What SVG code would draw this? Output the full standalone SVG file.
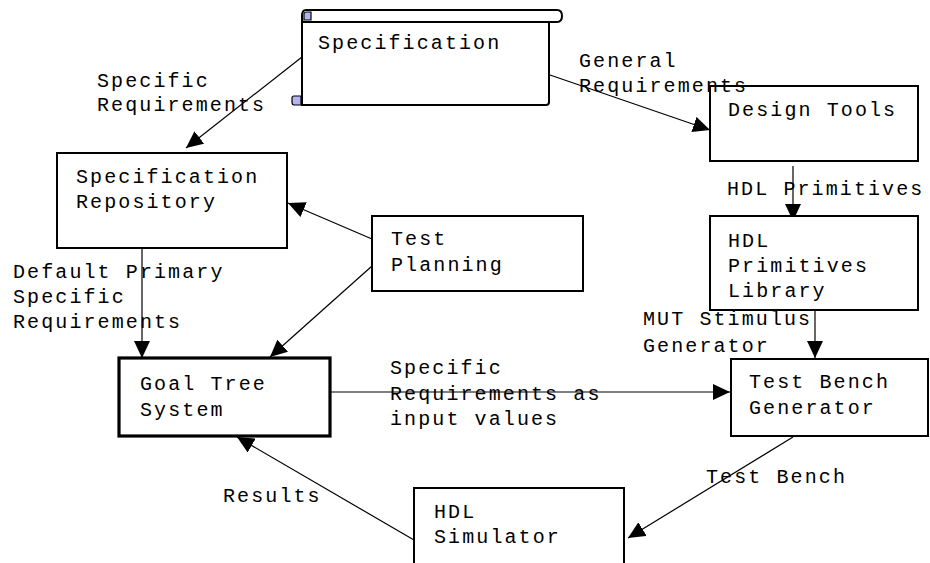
<svg xmlns="http://www.w3.org/2000/svg" width="930" height="563" viewBox="0 0 930 563">
  <style>
    text { font-family: "Liberation Mono", "DejaVu Sans Mono", monospace; font-size: 20px; letter-spacing: 2.1px; fill: #000; }
    .box { fill: #fff; stroke: #000; stroke-width: 2; }
    .bold { fill: #fff; stroke: #000; stroke-width: 3.2; }
    .edge { fill: none; stroke: #000; stroke-width: 1.2; marker-end: url(#arrow); }
    .curl { fill: #b4b4f0; stroke: #000; stroke-width: 1.2; }
  </style>
  <defs>
    <marker id="arrow" markerUnits="userSpaceOnUse" markerWidth="18" markerHeight="16" refX="17" refY="8" orient="auto">
      <path d="M0,0 L17,8 L0,16 z" fill="#000"/>
    </marker>
  </defs>
  <rect width="930" height="563" fill="#fff"/>

  <!-- connectors -->
  <g id="connectors">
    <path class="edge" d="M302,57 L186,148"/>
    <path class="edge" d="M550,75 L710,130"/>
    <path class="edge" d="M793,166 L793,221"/>
    <path class="edge" d="M142,243 L142,358"/>
    <path class="edge" d="M372,239 L288,203"/>
    <path class="edge" d="M372,266 L270,357"/>
    <path class="edge" d="M330,392 L730,392"/>
    <path class="edge" d="M815,300 L815,358"/>
    <path class="edge" d="M793,437 L628,538"/>
    <path class="edge" d="M414,540 L237,437"/>
  </g>

  <!-- scroll-shaped specification document -->
  <g id="specification">
    <path class="box" d="M302,16 V105 H546 Q549,105 549,102 V22"/>
    <path class="box" d="M306,10 H557 Q562,10 562,16 Q562,22 557,22 H303 Q302,22 302,16 Q302,10 306,10 z"/>
    <path class="curl" d="M304,14 Q304,12 307,12 H311 V20 H304 z"/>
    <path class="curl" d="M301,96 V105 H294 Q292,105 292,102 V98 Q292,96 294,96 z"/>
    <text x="318" y="49">Specification</text>
  </g>

  <g id="spec-repository">
    <rect class="box" x="57" y="153" width="230" height="95"/>
    <text x="76" y="183">Specification</text>
    <text x="76" y="208">Repository</text>
  </g>

  <g id="design-tools">
    <rect class="box" x="710" y="86" width="208" height="75"/>
    <text x="728" y="116">Design Tools</text>
  </g>

  <g id="hdl-primitives-library">
    <rect class="box" x="710" y="216" width="208" height="94"/>
    <text x="728" y="247">HDL</text>
    <text x="728" y="272">Primitives</text>
    <text x="728" y="297">Library</text>
  </g>

  <g id="test-planning">
    <rect class="box" x="372" y="216" width="211" height="75"/>
    <text x="391" y="245">Test</text>
    <text x="391" y="271">Planning</text>
  </g>

  <g id="goal-tree-system">
    <rect class="bold" x="119" y="358" width="211" height="78"/>
    <text x="140" y="390">Goal Tree</text>
    <text x="140" y="416">System</text>
  </g>

  <g id="test-bench-generator">
    <rect class="box" x="731" y="359" width="197" height="77"/>
    <text x="749" y="388">Test Bench</text>
    <text x="749" y="414">Generator</text>
  </g>

  <g id="hdl-simulator">
    <rect class="box" x="414" y="488" width="210" height="90"/>
    <text x="434" y="518">HDL</text>
    <text x="434" y="543">Simulator</text>
  </g>

  <!-- connector labels -->
  <g id="labels">
    <text x="97" y="87">Specific</text>
    <text x="97" y="111">Requirements</text>
    <text x="579" y="67">General</text>
    <text x="579" y="92">Requirements</text>
    <text x="727" y="195">HDL Primitives</text>
    <text x="13" y="278">Default Primary</text>
    <text x="13" y="303">Specific</text>
    <text x="13" y="328">Requirements</text>
    <text x="643" y="325">MUT Stimulus</text>
    <text x="643" y="352">Generator</text>
    <text x="390" y="374">Specific</text>
    <text x="390" y="400">Requirements as</text>
    <text x="390" y="425">input values</text>
    <text x="706" y="483">Test Bench</text>
    <text x="223" y="502">Results</text>
  </g>
</svg>
